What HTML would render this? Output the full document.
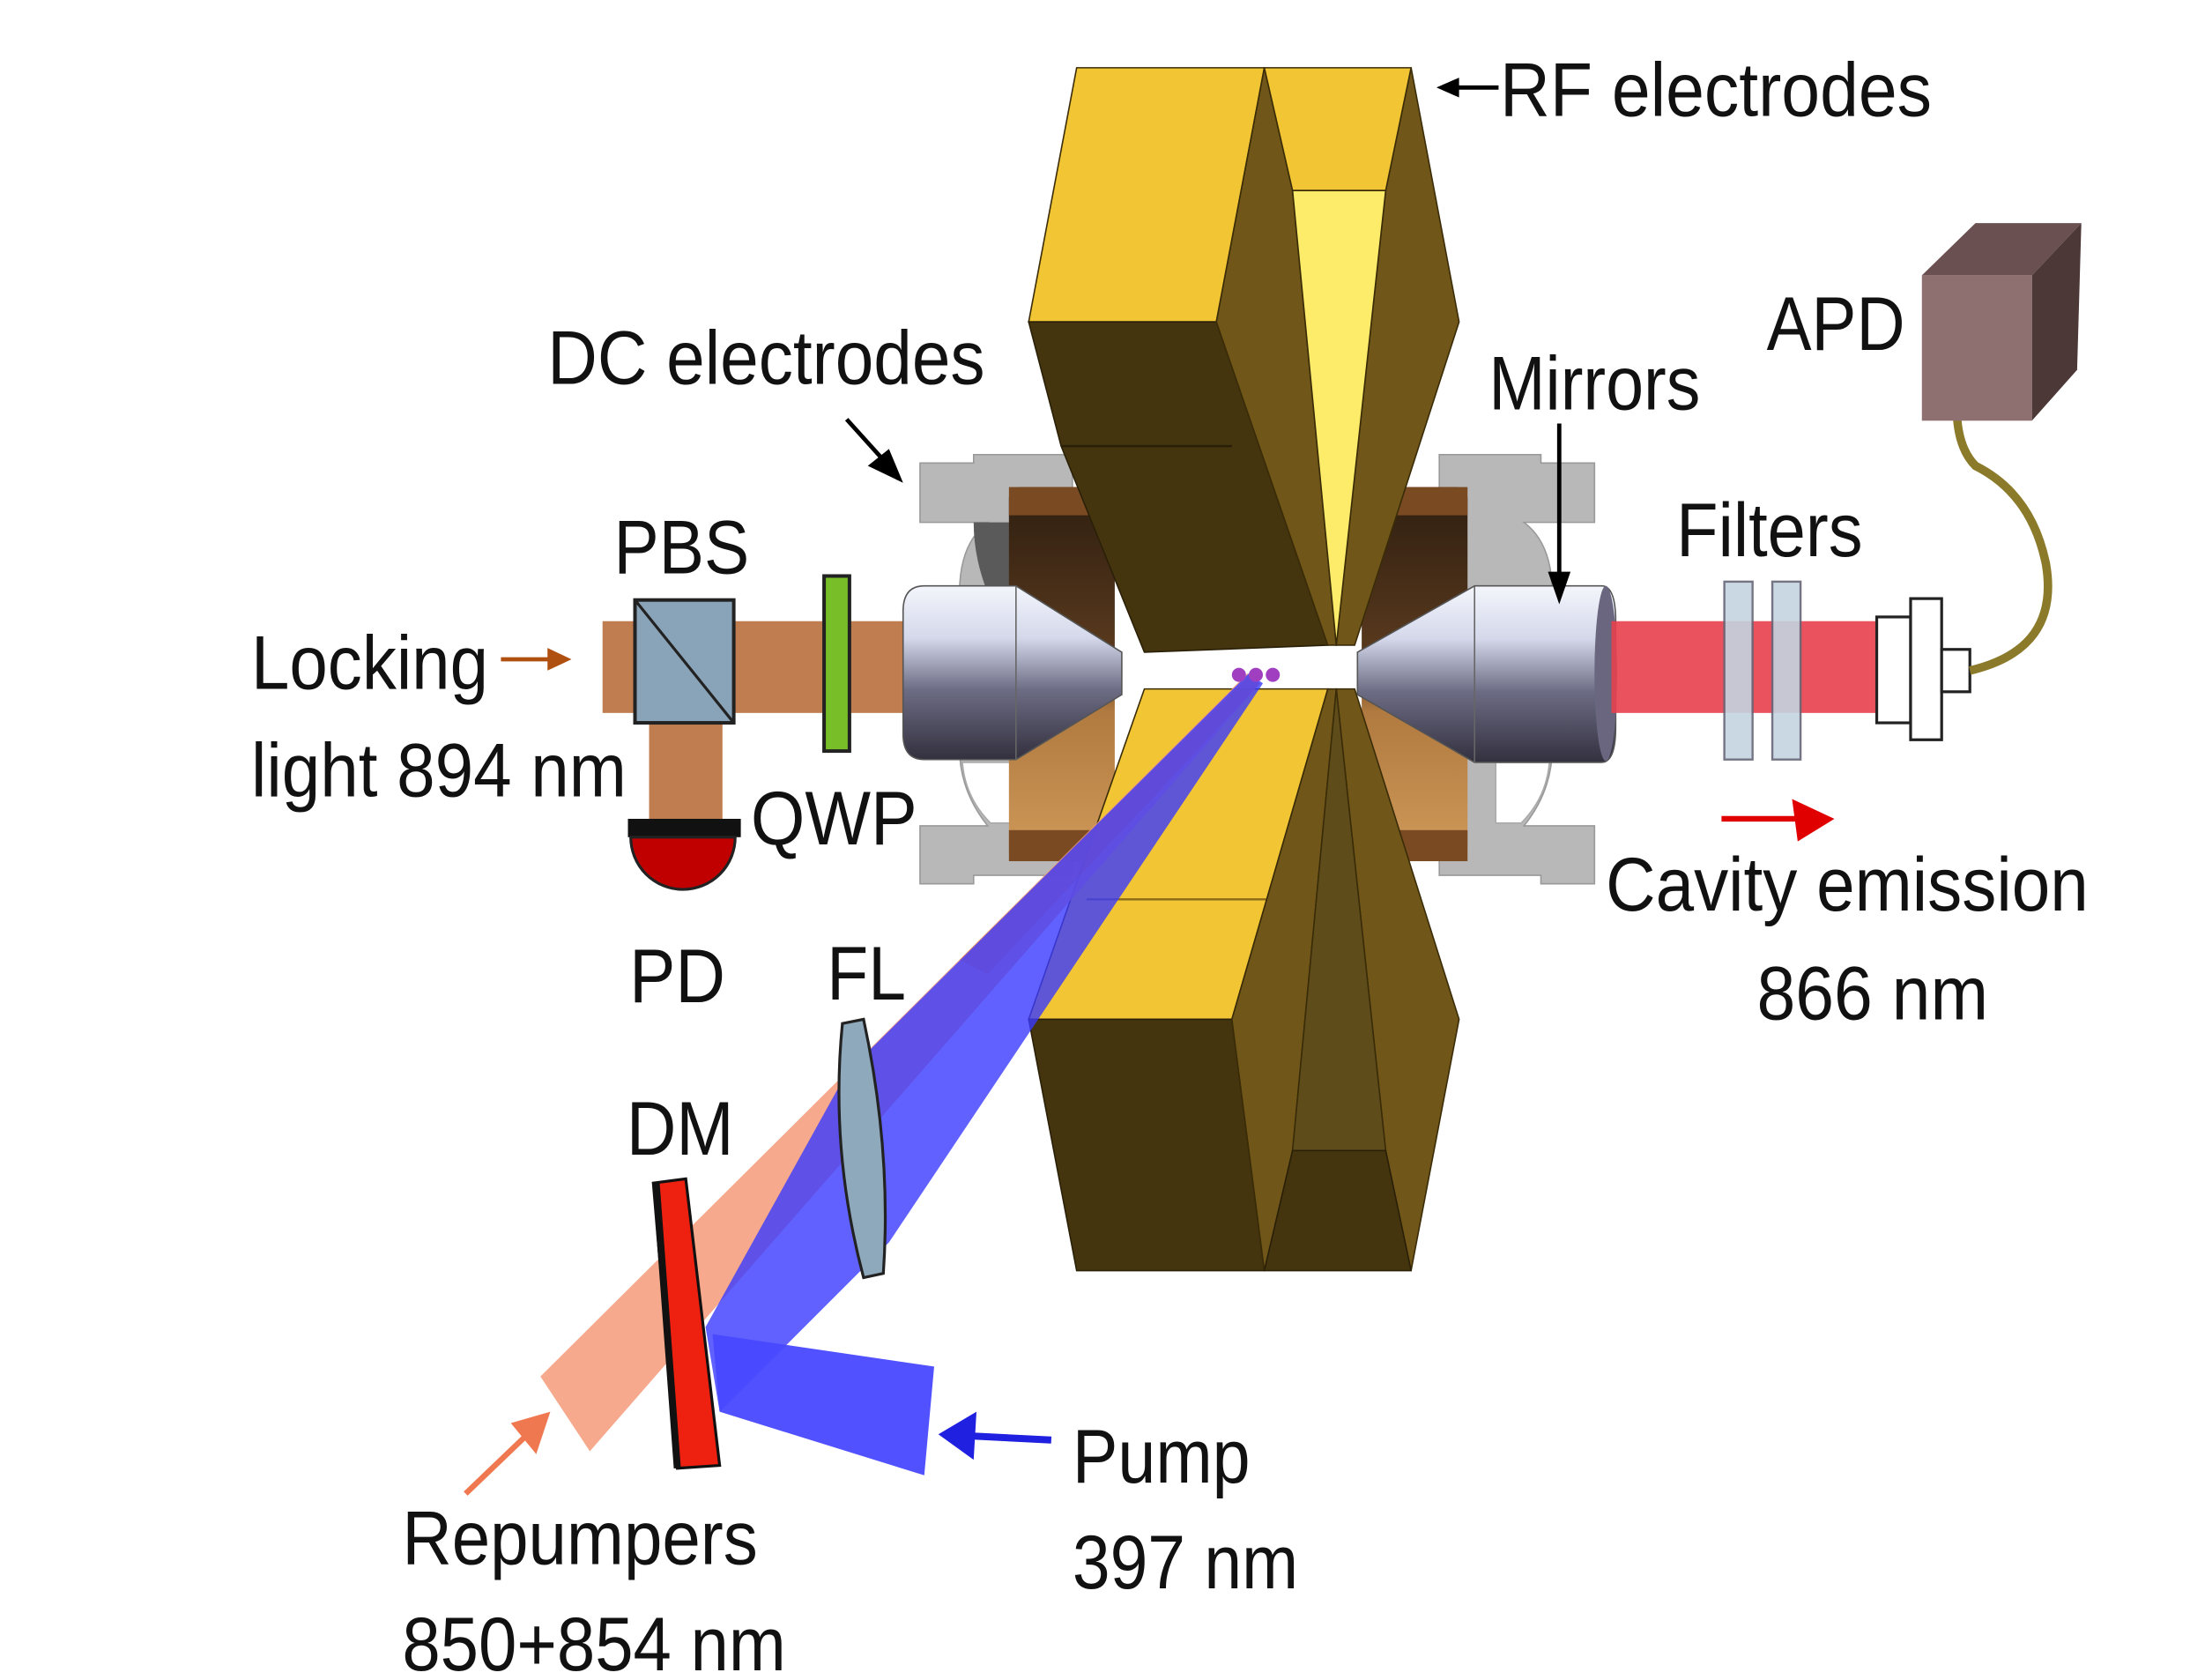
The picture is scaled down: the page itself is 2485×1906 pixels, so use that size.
<!DOCTYPE html>
<html><head><meta charset="utf-8"><style>
html,body{margin:0;padding:0;background:#fff;}
svg{display:block}
text{font-family:"Liberation Sans",sans-serif;fill:#111;}
</style></head><body>
<svg width="2485" height="1906" viewBox="0 0 1552 1190" preserveAspectRatio="none" xmlns="http://www.w3.org/2000/svg">
<defs>
<linearGradient id="cyl" x1="0" y1="0" x2="0" y2="1">
<stop offset="0" stop-color="#f4f6fc"/><stop offset="0.3" stop-color="#d4d8ea"/><stop offset="0.6" stop-color="#6c6c84"/><stop offset="1" stop-color="#33303e"/></linearGradient>
<linearGradient id="brn" x1="0" y1="0" x2="0" y2="1">
<stop offset="0" stop-color="#2e1e10"/><stop offset="0.45" stop-color="#5a3a1e"/><stop offset="0.6" stop-color="#b07a40"/><stop offset="1" stop-color="#d09a5a"/></linearGradient>
</defs>
<rect width="1552" height="1190" fill="#fff"/>

<!-- Locking beam -->
<rect x="427" y="440" width="215" height="65" fill="#c07d50"/>
<rect x="460" y="505" width="52" height="80" fill="#c07d50"/>
<rect x="450" y="425" width="70" height="87" fill="#89a4b8" stroke="#222" stroke-width="2.5"/>
<line x1="450" y1="425" x2="520" y2="512" stroke="#222" stroke-width="2"/>
<rect x="584" y="408" width="18" height="124" fill="#78be28" stroke="#222" stroke-width="2.5"/>
<rect x="445" y="580" width="80" height="13" fill="#111"/>
<path d="M447 593 L521 593 A37 37 0 0 1 447 593 Z" fill="#c00000" stroke="#222" stroke-width="2"/>

<!-- Left holder -->
<path d="M652 348 L652 328 L690 328 L690 322 L760 322 L760 620 L690 620 L690 626 L652 626 L652 585 L700 585 Q680 560 680 530 L680 420 Q680 385 700 370 L652 370 Z" fill="#b8b8b8" stroke="#999" stroke-width="1"/>
<path d="M690 370 L760 370 L760 420 L700 420 Q690 395 690 370 Z" fill="#5a5a5a"/>
<path d="M682 540 L720 540 L720 583 L702 583 Q684 565 682 540 Z" fill="#fff" stroke="#aaa" stroke-width="1"/>
<rect x="715" y="345" width="75" height="265" rx="8" fill="url(#brn)"/>
<rect x="715" y="345" width="75" height="20" fill="#7a4a22"/>
<rect x="715" y="588" width="75" height="22" fill="#7a4a22"/>
<!-- Right holder -->
<path d="M1130 348 L1130 328 L1092 328 L1092 322 L1020 322 L1020 620 L1092 620 L1092 626 L1130 626 L1130 585 L1080 585 Q1100 560 1100 530 L1100 420 Q1100 385 1080 370 L1130 370 Z" fill="#b8b8b8" stroke="#999" stroke-width="1"/>
<path d="M1098 540 L1060 540 L1060 583 L1078 583 Q1096 565 1098 540 Z" fill="#fff" stroke="#aaa" stroke-width="1"/>
<rect x="965" y="345" width="75" height="265" rx="8" fill="url(#brn)"/>
<rect x="965" y="345" width="75" height="20" fill="#7a4a22"/>
<rect x="965" y="588" width="75" height="22" fill="#7a4a22"/>

<!-- Upper RF block -->
<polygon points="763,48 896,48 862,228 729,228" fill="#f2c535" stroke="#3a2c08" stroke-width="1"/>
<polygon points="729,228 862,228 941,457 811,462 752,316" fill="#45350f" stroke="#2a2008" stroke-width="1"/>
<line x1="752" y1="316" x2="873" y2="316" stroke="#2a2008" stroke-width="1.5"/>
<polygon points="896,48 862,228 941,457 947,457 916,135" fill="#705618" stroke="#3a2c08" stroke-width="1"/>
<polygon points="1000,48 1034,228 960,457 947,457 982,135" fill="#705618" stroke="#3a2c08" stroke-width="1"/>
<polygon points="896,48 1000,48 982,135 916,135" fill="#f2c535" stroke="#3a2c08" stroke-width="1"/>
<polygon points="916,135 982,135 947,457" fill="#fdec6a" stroke="#3a2c08" stroke-width="1"/>
<!-- Lower RF block -->
<polygon points="811,488 941,488 873,722 729,722" fill="#f2c535" stroke="#3a2c08" stroke-width="1"/>
<line x1="770" y1="637" x2="898" y2="637" stroke="#8a6a18" stroke-width="1.5"/>
<polygon points="729,722 873,722 896,900 763,900" fill="#45350f" stroke="#2a2008" stroke-width="1"/>
<polygon points="941,488 947,488 916,815 896,900 873,722" fill="#705618" stroke="#3a2c08" stroke-width="1"/>
<polygon points="947,488 960,488 1034,722 1000,900 982,815" fill="#705618" stroke="#3a2c08" stroke-width="1"/>
<polygon points="947,488 916,815 982,815" fill="#5e4c1a" stroke="#3a2c08" stroke-width="1"/>
<polygon points="916,815 982,815 1000,900 896,900" fill="#45350f" stroke="#2a2008" stroke-width="1"/>

<!-- Left mirror -->
<path d="M655 415 L720 415 L795 462 L795 492 L720 538 L655 538 Q640 538 640 520 L640 433 Q640 415 655 415 Z" fill="url(#cyl)" stroke="#555" stroke-width="1"/>
<line x1="720" y1="415" x2="720" y2="538" stroke="#666" stroke-width="1"/>
<!-- Right mirror -->
<path d="M1045 415 L1135 415 Q1145 415 1145 440 L1145 515 Q1145 540 1135 540 L1045 540 L962 492 L962 462 Z" fill="url(#cyl)" stroke="#555" stroke-width="1"/>
<ellipse cx="1138" cy="477" rx="8" ry="62" fill="#6a6680"/>
<line x1="1045" y1="415" x2="1045" y2="540" stroke="#666" stroke-width="1"/>

<!-- Beams -->
<polygon points="383,975 418,1028 893,484 884,477" fill="#f49a78" opacity="0.85"/>
<polygon points="680,680 700,690 893,484 886,478" fill="#f08030" opacity="0.6"/>
<polygon points="500,940 510,1000 630,880 895,484 885,477 600,760" fill="#3a3aff" opacity="0.8"/>
<polygon points="505,945 662,968 655,1045 510,1000" fill="#4848ff" opacity="0.95"/>
<circle cx="878" cy="478" r="5" fill="#a040c0"/><circle cx="890" cy="478" r="5" fill="#a040c0"/><circle cx="902" cy="478" r="5" fill="#a040c0"/>

<!-- DM, FL -->
<polygon points="463,838 486,835 510,1038 480,1040" fill="#ee2010" stroke="#111" stroke-width="2"/>
<line x1="465" y1="838" x2="480" y2="1040" stroke="#111" stroke-width="5"/>
<path d="M597 725 Q588 815 612 905 L626 902 Q632 815 612 722 Z" fill="#8ea8bc" stroke="#222" stroke-width="2"/>

<!-- Cavity output -->
<rect x="1142" y="440" width="195" height="65" fill="#e8404c" opacity="0.9"/>
<rect x="1222" y="412" width="20" height="126" fill="#c4d4e0" stroke="#667" stroke-width="1.5" opacity="0.9"/>
<rect x="1256" y="412" width="20" height="126" fill="#c4d4e0" stroke="#667" stroke-width="1.5" opacity="0.9"/>
<rect x="1330" y="437" width="24" height="75" fill="#fff" stroke="#222" stroke-width="2"/>
<rect x="1354" y="424" width="22" height="100" fill="#fff" stroke="#222" stroke-width="2"/>
<rect x="1376" y="460" width="20" height="30" fill="#fff" stroke="#222" stroke-width="2"/>
<path d="M1396 475 Q1460 460 1450 400 Q1440 350 1400 330 Q1380 310 1390 255" fill="none" stroke="#8a7a2a" stroke-width="6"/>
<polygon points="1362,195 1400,158 1475,158 1440,195" fill="#6a5050"/>
<polygon points="1440,195 1475,158 1472,262 1440,298" fill="#4d3838"/>
<rect x="1362" y="195" width="78" height="103" fill="#8e7070"/>

<!-- Arrows -->
<g stroke-width="3" fill="none">
<line x1="355" y1="467" x2="392" y2="467" stroke="#b05010"/>
<line x1="600" y1="297" x2="628" y2="328" stroke="#000"/>
<line x1="1062" y1="62" x2="1030" y2="62" stroke="#000"/>
<line x1="1105" y1="300" x2="1105" y2="408" stroke="#000"/>
<line x1="1220" y1="580" x2="1280" y2="580" stroke="#e00000" stroke-width="4"/>
<line x1="745" y1="1020" x2="685" y2="1017" stroke="#2020e0" stroke-width="5"/>
<line x1="330" y1="1058" x2="378" y2="1012" stroke="#f07850" stroke-width="4"/>
</g>
<polygon points="405,467 388,459 388,475" fill="#b05010"/>
<polygon points="640,342 615,330 630,318" fill="#000"/>
<polygon points="1018,62 1034,55 1034,69" fill="#000"/>
<polygon points="1105,428 1097,405 1113,405" fill="#000"/>
<polygon points="1300,580 1270,566 1274,596" fill="#e00000"/>
<polygon points="665,1016 692,1000 690,1034" fill="#2020e0"/>
<polygon points="390,1000 362,1008 380,1030" fill="#f07850"/>

<!-- Labels -->
<g font-size="54">
<text x="178" y="488" textLength="168" lengthAdjust="spacingAndGlyphs">Locking</text>
<text x="178" y="564" textLength="266" lengthAdjust="spacingAndGlyphs">light 894 nm</text>
<text x="435" y="406" textLength="96" lengthAdjust="spacingAndGlyphs">PBS</text>
<text x="532" y="598" textLength="118" lengthAdjust="spacingAndGlyphs">QWP</text>
<text x="446" y="710" textLength="68" lengthAdjust="spacingAndGlyphs">PD</text>
<text x="586" y="708" textLength="56" lengthAdjust="spacingAndGlyphs">FL</text>
<text x="444" y="818" textLength="76" lengthAdjust="spacingAndGlyphs">DM</text>
<text x="388" y="272" textLength="310" lengthAdjust="spacingAndGlyphs">DC electrodes</text>
<text x="1063" y="82" textLength="306" lengthAdjust="spacingAndGlyphs">RF electrodes</text>
<text x="1055" y="290" textLength="150" lengthAdjust="spacingAndGlyphs">Mirrors</text>
<text x="1252" y="248" textLength="98" lengthAdjust="spacingAndGlyphs">APD</text>
<text x="1188" y="394" textLength="132" lengthAdjust="spacingAndGlyphs">Filters</text>
<text x="1138" y="645" textLength="342" lengthAdjust="spacingAndGlyphs">Cavity emission</text>
<text x="1245" y="722" textLength="164" lengthAdjust="spacingAndGlyphs">866 nm</text>
<text x="760" y="1050" textLength="126" lengthAdjust="spacingAndGlyphs">Pump</text>
<text x="760" y="1125" textLength="160" lengthAdjust="spacingAndGlyphs">397 nm</text>
<text x="285" y="1108" textLength="252" lengthAdjust="spacingAndGlyphs">Repumpers</text>
<text x="285" y="1183" textLength="272" lengthAdjust="spacingAndGlyphs">850+854 nm</text>
</g>
</svg>
</body></html>
